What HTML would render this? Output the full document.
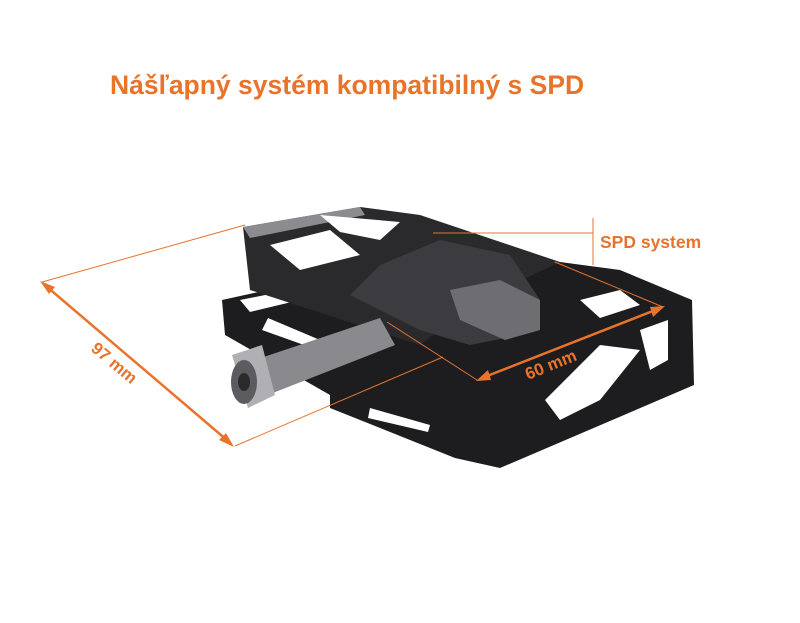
<!DOCTYPE html>
<html><head><meta charset="utf-8"><style>
html,body{margin:0;padding:0;background:#fff;}
svg{display:block}
</style></head><body>
<svg width="800" height="623" viewBox="0 0 800 623" xmlns="http://www.w3.org/2000/svg">
<rect width="800" height="623" fill="#fff"/>
<text x="110" y="94" font-family="Liberation Sans, sans-serif" font-weight="bold" font-size="26.5" fill="#e8742c">Nášľapný systém kompatibilný s SPD</text>

<!-- lower plate -->
<polygon points="222,300 300,283 560,262 620,270 692,300 694,385 500,468 455,458 330,408 330,395 225,335" fill="#1d1d1f"/>
<polygon points="268,318 320,340 318,350 262,330" fill="#fff"/>
<polygon points="370,408 430,425 428,432 368,418" fill="#fff"/>
<polygon points="545,400 600,345 640,350 600,400 560,420" fill="#fff"/>
<polygon points="640,330 668,320 668,360 650,370" fill="#fff"/>
<polygon points="240,300 290,290 300,300 250,312" fill="#fff"/>
<polygon points="580,300 620,290 640,305 600,318" fill="#fff"/>
<!-- upper cage -->
<polygon points="243,227 360,207 420,215 560,262 480,300 420,345 250,290" fill="#2a2a2d"/>
<polygon points="243,227 360,207 365,215 250,238" fill="#8c8c90"/>
<polygon points="270,245 330,230 360,255 300,270" fill="#fff"/>
<polygon points="320,215 400,222 380,240 340,232" fill="#fff"/>
<!-- clip mechanism -->
<polygon points="350,295 380,265 440,240 510,255 540,300 520,335 470,345 420,330" fill="#3c3c40"/>
<polygon points="450,290 500,280 540,300 540,330 505,340 460,320" fill="#6e6e72"/>
<!-- axle -->
<polygon points="240,365 380,318 395,345 255,400" fill="#8a8a8e"/>
<polygon points="232,355 262,345 275,395 248,408" fill="#b0b0b4"/>
<ellipse cx="244" cy="382" rx="13" ry="22" fill="#5c5c60"/>
<ellipse cx="244" cy="382" rx="6" ry="9" fill="#2a2a2a"/>

<g stroke="#e8742c" fill="none" stroke-width="1">
<line x1="42" y1="282" x2="245" y2="225"/>
<line x1="235" y1="446" x2="443" y2="357"/>
<line x1="477" y1="380" x2="387" y2="322"/>
<line x1="663" y1="307" x2="555" y2="262"/>
<line x1="433" y1="233" x2="593" y2="233"/>
<line x1="593" y1="218" x2="593" y2="265"/>
</g>
<g stroke="#e8742c" stroke-width="2.5">
<line x1="46" y1="286" x2="228" y2="441"/>
<line x1="482" y1="378" x2="658" y2="309"/>
</g>
<g fill="#e8742c">
<polygon points="40,281 55,287 49,294"/>
<polygon points="234,447 219,440 226,433"/>
<polygon points="476,381 488,370 491,380"/>
<polygon points="665,306 653,317 650,307"/>
</g>
<text x="600" y="248" font-family="Liberation Sans, sans-serif" font-weight="bold" font-size="17.5" fill="#e8742c">SPD system</text>
<text transform="translate(90,350) rotate(40)" font-family="Liberation Sans, sans-serif" font-weight="bold" font-size="17" fill="#e8742c">97 mm</text>
<text transform="translate(528,380) rotate(-22)" font-family="Liberation Sans, sans-serif" font-weight="bold" font-size="17" fill="#e8742c">60 mm</text>
</svg>
</body></html>
